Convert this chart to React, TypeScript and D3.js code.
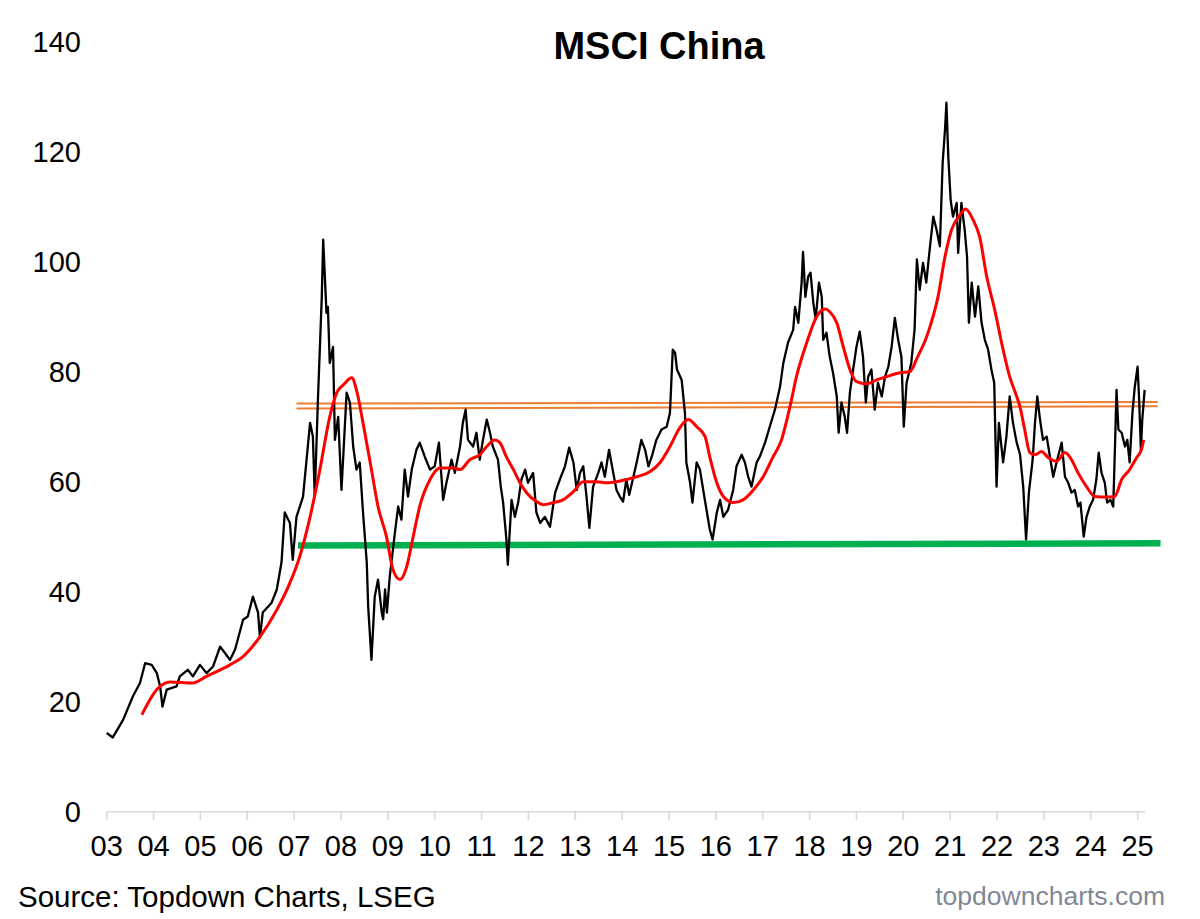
import React from "react";
import * as d3 from "d3";

type Pt = [number, number];

const chartTitle = "MSCI China";
const sourceText = "Source: Topdown Charts, LSEG";
const siteText = "topdowncharts.com";

const yearTicks: number[] = d3.range(2003, 2026);
const yTicks: number[] = [0, 20, 40, 60, 80, 100, 120, 140];
const xDomain: Pt = [2003, 2025];
const axisEndYear = 2025.16;

// MSCI China index level (decimal year, value)
const priceSeries: Pt[] = [
  [2003.0, 14.3], [2003.13, 13.5], [2003.35, 16.7], [2003.56, 21.0], [2003.71, 23.4], [2003.82, 27.0],
  [2003.96, 26.7], [2004.07, 25.2], [2004.14, 22.8], [2004.19, 19.1], [2004.28, 22.2], [2004.49, 22.8],
  [2004.56, 24.6], [2004.73, 25.8], [2004.84, 24.6], [2004.99, 26.7], [2005.13, 25.2], [2005.27, 26.4],
  [2005.42, 30.0], [2005.52, 28.9], [2005.63, 27.6], [2005.74, 29.5], [2005.91, 34.9], [2006.01, 35.5],
  [2006.12, 39.1], [2006.23, 36.2], [2006.27, 31.6], [2006.33, 36.2], [2006.52, 38.0], [2006.63, 40.4],
  [2006.73, 45.3], [2006.8, 54.4], [2006.91, 52.5], [2006.97, 45.8], [2007.05, 53.6], [2007.19, 57.3],
  [2007.34, 70.7], [2007.4, 68.2], [2007.44, 57.3], [2007.51, 75.5], [2007.59, 93.6], [2007.62, 104.0],
  [2007.69, 90.7], [2007.72, 91.8], [2007.76, 81.6], [2007.83, 84.5], [2007.87, 67.6], [2007.94, 71.8],
  [2008.01, 58.5], [2008.12, 76.2], [2008.19, 74.4], [2008.26, 66.4], [2008.33, 62.2], [2008.4, 63.5],
  [2008.47, 54.4], [2008.55, 45.3], [2008.58, 37.3], [2008.65, 27.6], [2008.72, 39.1], [2008.79, 42.2],
  [2008.87, 36.2], [2008.9, 35.0], [2008.94, 40.4], [2008.98, 36.2], [2009.04, 42.7], [2009.15, 50.7],
  [2009.22, 55.5], [2009.29, 53.1], [2009.36, 62.2], [2009.43, 57.3], [2009.51, 62.2], [2009.61, 65.8],
  [2009.68, 67.1], [2009.79, 64.5], [2009.9, 62.2], [2010.0, 62.8], [2010.09, 67.1], [2010.18, 56.7],
  [2010.25, 59.8], [2010.36, 64.0], [2010.43, 61.6], [2010.54, 66.4], [2010.6, 70.7], [2010.66, 73.1],
  [2010.71, 67.6], [2010.82, 66.4], [2010.89, 68.9], [2010.96, 64.0], [2011.03, 67.6], [2011.11, 71.3],
  [2011.18, 68.9], [2011.24, 66.4], [2011.35, 64.0], [2011.41, 59.1], [2011.46, 56.2], [2011.53, 49.5],
  [2011.56, 44.9], [2011.64, 56.7], [2011.71, 53.6], [2011.78, 56.2], [2011.85, 60.4], [2011.93, 62.2],
  [2011.99, 59.8], [2012.1, 61.6], [2012.17, 54.4], [2012.25, 52.5], [2012.35, 53.6], [2012.46, 51.8],
  [2012.57, 58.0], [2012.67, 60.4], [2012.78, 62.8], [2012.87, 66.2], [2012.96, 63.5], [2013.03, 58.5],
  [2013.1, 61.6], [2013.17, 62.8], [2013.24, 57.3], [2013.3, 51.6], [2013.38, 59.1], [2013.49, 61.6],
  [2013.56, 63.5], [2013.63, 60.9], [2013.72, 65.8], [2013.81, 61.6], [2013.88, 58.5], [2013.95, 57.3],
  [2014.02, 56.4], [2014.09, 60.4], [2014.15, 57.6], [2014.24, 60.9], [2014.31, 63.5], [2014.41, 67.6],
  [2014.49, 65.8], [2014.56, 62.8], [2014.63, 64.5], [2014.73, 67.6], [2014.84, 69.5], [2014.95, 70.0],
  [2015.02, 72.5], [2015.08, 84.0], [2015.13, 83.4], [2015.17, 80.4], [2015.27, 78.5], [2015.34, 72.5],
  [2015.37, 63.5], [2015.45, 59.8], [2015.5, 56.2], [2015.59, 63.5], [2015.66, 62.2], [2015.73, 58.5],
  [2015.8, 54.9], [2015.87, 51.3], [2015.93, 49.5], [2016.02, 54.4], [2016.09, 56.7], [2016.16, 53.6],
  [2016.26, 54.9], [2016.37, 58.5], [2016.44, 62.8], [2016.55, 64.9], [2016.62, 63.5], [2016.69, 60.9],
  [2016.76, 59.1], [2016.87, 63.5], [2016.94, 64.6], [2017.05, 67.1], [2017.15, 70.0], [2017.26, 73.1],
  [2017.37, 77.3], [2017.44, 81.6], [2017.54, 85.3], [2017.65, 87.6], [2017.69, 91.8], [2017.76, 88.9],
  [2017.83, 96.2], [2017.86, 101.8], [2017.91, 93.6], [2017.97, 97.3], [2018.02, 98.0], [2018.08, 92.5],
  [2018.13, 89.5], [2018.2, 96.2], [2018.26, 93.6], [2018.29, 85.8], [2018.36, 87.1], [2018.43, 82.7],
  [2018.5, 79.8], [2018.58, 75.5], [2018.62, 68.9], [2018.68, 74.4], [2018.75, 71.8], [2018.8, 68.9],
  [2018.86, 76.2], [2018.93, 80.4], [2019.0, 84.5], [2019.07, 87.3], [2019.14, 82.7], [2019.2, 74.4],
  [2019.25, 79.1], [2019.32, 80.4], [2019.39, 73.1], [2019.46, 78.0], [2019.54, 75.5], [2019.61, 79.1],
  [2019.68, 80.9], [2019.75, 84.5], [2019.82, 89.8], [2019.89, 85.8], [2019.96, 82.7], [2020.01, 70.0],
  [2020.07, 78.0], [2020.17, 81.6], [2020.24, 87.6], [2020.29, 100.4], [2020.35, 94.9], [2020.42, 99.8],
  [2020.49, 96.2], [2020.57, 102.8], [2020.64, 108.2], [2020.71, 105.8], [2020.78, 102.8], [2020.84, 118.0],
  [2020.89, 124.0], [2020.92, 128.9], [2020.96, 119.1], [2021.01, 111.3], [2021.06, 108.2], [2021.14, 110.7],
  [2021.17, 101.6], [2021.24, 110.7], [2021.31, 105.8], [2021.36, 100.9], [2021.4, 88.9], [2021.46, 96.2],
  [2021.53, 90.0], [2021.6, 95.5], [2021.67, 88.9], [2021.74, 85.8], [2021.81, 84.0], [2021.88, 80.4],
  [2021.94, 78.0], [2021.99, 59.1], [2022.04, 70.7], [2022.13, 63.5], [2022.2, 68.2], [2022.27, 75.5],
  [2022.34, 70.7], [2022.42, 67.1], [2022.49, 65.0], [2022.56, 59.0], [2022.62, 49.5], [2022.68, 58.0],
  [2022.76, 64.0], [2022.81, 70.7], [2022.86, 75.5], [2022.91, 71.8], [2022.98, 67.6], [2023.06, 68.2],
  [2023.13, 64.5], [2023.2, 60.9], [2023.27, 63.5], [2023.34, 65.8], [2023.38, 67.1], [2023.45, 60.9],
  [2023.52, 59.8], [2023.59, 58.0], [2023.66, 58.5], [2023.73, 55.5], [2023.78, 56.2], [2023.85, 50.0],
  [2023.91, 53.6], [2023.98, 55.5], [2024.05, 56.7], [2024.12, 60.4], [2024.17, 65.3], [2024.23, 61.6],
  [2024.3, 59.8], [2024.35, 56.2], [2024.42, 56.7], [2024.48, 55.5], [2024.52, 67.1], [2024.55, 76.7],
  [2024.59, 69.5], [2024.66, 68.9], [2024.73, 66.4], [2024.78, 67.6], [2024.83, 63.5], [2024.89, 72.5],
  [2024.94, 77.3], [2025.0, 80.9], [2025.03, 75.5], [2025.07, 65.8], [2025.1, 71.3], [2025.15, 76.7],
];

// Moving average (red)
const movingAverage: Pt[] = [
  [2003.75, 17.6], [2004.07, 22.2], [2004.35, 23.6], [2004.84, 23.4], [2005.13, 24.6], [2005.63, 26.7],
  [2005.91, 28.2], [2006.27, 31.8], [2006.63, 36.7], [2006.91, 41.6], [2007.12, 46.4], [2007.34, 53.6],
  [2007.55, 62.2], [2007.76, 71.8], [2007.91, 76.2], [2008.05, 77.6], [2008.23, 78.9], [2008.33, 76.7],
  [2008.47, 70.7], [2008.65, 62.2], [2008.79, 55.5], [2008.97, 50.0], [2009.11, 44.0], [2009.26, 42.2],
  [2009.4, 44.5], [2009.54, 50.0], [2009.68, 55.5], [2009.9, 60.4], [2010.11, 62.5], [2010.4, 62.5],
  [2010.54, 62.2], [2010.75, 64.0], [2010.96, 64.9], [2011.11, 66.4], [2011.28, 67.6], [2011.39, 67.1],
  [2011.53, 64.5], [2011.68, 62.2], [2011.82, 59.8], [2011.96, 58.0], [2012.17, 56.4], [2012.32, 55.8],
  [2012.53, 56.2], [2012.74, 56.7], [2012.96, 58.2], [2013.17, 60.0], [2013.45, 60.0], [2013.67, 59.8],
  [2013.88, 60.0], [2014.09, 60.4], [2014.31, 60.9], [2014.59, 61.8], [2014.81, 63.5], [2015.02, 66.4],
  [2015.23, 69.8], [2015.41, 71.3], [2015.59, 70.0], [2015.77, 68.2], [2015.87, 64.5], [2016.02, 59.8],
  [2016.16, 57.3], [2016.37, 56.2], [2016.58, 56.7], [2016.8, 58.5], [2017.01, 60.9], [2017.22, 64.5],
  [2017.4, 67.6], [2017.58, 73.6], [2017.72, 79.1], [2017.94, 85.3], [2018.15, 90.0], [2018.33, 91.4],
  [2018.43, 90.9], [2018.58, 88.9], [2018.72, 84.5], [2018.86, 80.4], [2019.0, 78.2], [2019.22, 77.8],
  [2019.43, 78.5], [2019.64, 79.1], [2019.93, 79.8], [2020.14, 80.0], [2020.3, 82.6], [2020.5, 86.4],
  [2020.57, 88.2], [2020.74, 93.6], [2020.89, 100.9], [2021.03, 105.8], [2021.21, 108.5], [2021.33, 109.6],
  [2021.49, 107.6], [2021.63, 104.5], [2021.78, 97.3], [2021.95, 91.3], [2022.13, 84.0], [2022.27, 79.1],
  [2022.42, 75.5], [2022.49, 73.6], [2022.59, 69.5], [2022.7, 65.3], [2022.81, 64.9], [2022.95, 65.5],
  [2023.09, 64.4], [2023.27, 63.7], [2023.45, 65.3], [2023.59, 64.0], [2023.73, 61.6], [2023.91, 59.1],
  [2024.09, 57.3], [2024.34, 57.2], [2024.51, 57.3], [2024.66, 60.4], [2024.83, 62.2], [2024.98, 64.4],
  [2025.08, 65.8], [2025.13, 67.6],
];

// Horizontal reference lines
const upperBandTop: Pt[] = [[2007.05, 74.2], [2025.43, 74.5]];
const upperBandBottom: Pt[] = [[2007.05, 73.3], [2025.43, 73.7]];
const supportLine: Pt[] = [[2007.08, 48.4], [2025.49, 48.8]];

const FONT = "'Liberation Sans', Arial, Helvetica, sans-serif";

export default function App() {
  const W = 1200;
  const H = 919;
  const x = d3.scaleLinear().domain(xDomain).range([106.7, 1137.6]);
  const y = d3.scaleLinear().domain([0, 140]).range([811.7, 41.7]);
  const line = d3
    .line<Pt>()
    .x((d) => x(d[0]))
    .y((d) => y(d[1]));
  const smooth = d3
    .line<Pt>()
    .x((d) => x(d[0]))
    .y((d) => y(d[1]))
    .curve(d3.curveMonotoneX);

  const axisY = y(0);

  return (
    <svg
      width={W}
      height={H}
      viewBox={`0 0 ${W} ${H}`}
      style={{ position: "absolute", left: 0, top: 0, display: "block", background: "#fff" }}
      fontFamily={FONT}
    >
      <rect x={0} y={0} width={W} height={H} fill="#ffffff" />
      <text x={659} y={59} textAnchor="middle" fontSize={38} fontWeight="bold" fill="#000">
        {chartTitle}
      </text>

      {/* y tick labels */}
      {yTicks.map((t) => (
        <text key={t} x={81} y={y(t)} dy="0.36em" textAnchor="end" fontSize={29} fill="#000">
          {t}
        </text>
      ))}

      {/* x axis */}
      <line x1={x(xDomain[0])} x2={x(axisEndYear)} y1={axisY} y2={axisY} stroke="#d9d9d9" strokeWidth={1.6} />
      {yearTicks.map((yr) => (
        <g key={yr}>
          <line x1={x(yr)} x2={x(yr)} y1={axisY} y2={axisY + 8.5} stroke="#d9d9d9" strokeWidth={1.6} />
          <text x={x(yr)} y={856} textAnchor="middle" fontSize={29} fill="#000">
            {String(yr % 100).padStart(2, "0")}
          </text>
        </g>
      ))}

      {/* reference lines */}
      <path d={line(supportLine) || ""} fill="none" stroke="#00b050" strokeWidth={6.5} />
      <path d={line(upperBandTop) || ""} fill="none" stroke="#ed7d31" strokeWidth={2} />
      <path d={line(upperBandBottom) || ""} fill="none" stroke="#ed7d31" strokeWidth={2} />

      {/* series */}
      <path d={line(priceSeries) || ""} fill="none" stroke="#000" strokeWidth={2.3} strokeLinejoin="round" />
      <path d={smooth(movingAverage) || ""} fill="none" stroke="#ff0000" strokeWidth={3} strokeLinejoin="round" />

      {/* footer */}
      <text x={18} y={906.5} fontSize={29.5} fill="#000">
        {sourceText}
      </text>
      <text x={1165} y={905} textAnchor="end" fontSize={26.5} fill="#7f8895">
        {siteText}
      </text>
    </svg>
  );
}
